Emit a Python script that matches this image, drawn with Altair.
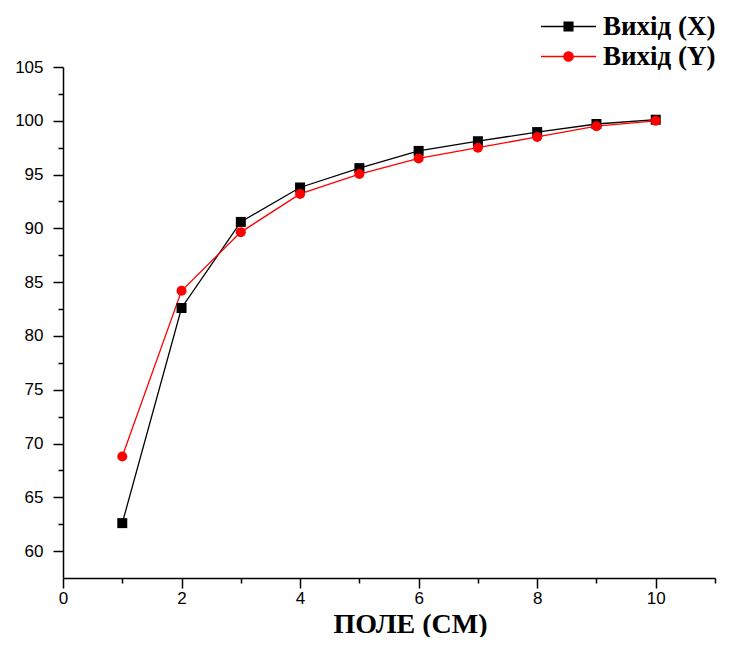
import altair as alt
import pandas as pd

# --- data ---
field_cm = [1, 2, 3, 4, 5, 6, 7, 8, 9, 10]
out_x = [62.6, 82.6, 90.6, 93.8, 95.6, 97.2, 98.1, 98.95, 99.7, 100.1]
out_y = [68.8, 84.2, 89.65, 93.2, 95.05, 96.5, 97.5, 98.5, 99.5, 100.0]
series_names = ["Вихід (X)", "Вихід (Y)"]
series_colors = ["#000000", "#ff0000"]
series_shapes = ["square", "circle"]
x_tick_values = [0, 1, 2, 3, 4, 5, 6, 7, 8, 9, 10, 11]
y_tick_values = [60, 62.5, 65, 67.5, 70, 72.5, 75, 77.5, 80, 82.5, 85, 87.5,
                 90, 92.5, 95, 97.5, 100, 102.5, 105]

rows = []
for name, vals in zip(series_names, [out_x, out_y]):
    for f, v in zip(field_cm, vals):
        rows.append({"field": f, "value": v, "series": name})
df = pd.DataFrame(rows)

x_enc = alt.X(
    "field:Q",
    scale=alt.Scale(domain=[0, 11], nice=False, zero=False),
    axis=alt.Axis(
        values=x_tick_values,
        labelExpr="datum.value % 2 == 0 ? datum.label : ''",
        tickSize={"condition": {"test": "datum.value % 2 == 0", "value": 10}, "value": 5},
        labelPadding=2,
        labelFlush=False,
        title="ПОЛЕ (СМ)",
        titleFont="Liberation Serif",
        titleFontSize=28,
        titleFontWeight="bold",
        titleColor="#000000",
        titleX=347,
        titleY=54,
        titleAlign="center",
        titleBaseline="alphabetic",
        titleAnchor="start",
    ),
)
y_enc = alt.Y(
    "value:Q",
    scale=alt.Scale(domain=[57.5, 105], nice=False, zero=False),
    axis=alt.Axis(
        values=y_tick_values,
        labelExpr="datum.value % 5 == 0 ? datum.label : ''",
        tickSize={"condition": {"test": "datum.value % 5 == 0", "value": 10}, "value": 5},
        labelPadding=10,
        labelFlush=False,
        title=None,
    ),
)
color_scale = alt.Scale(domain=series_names, range=series_colors)

shape_expr = (
    "datum.value == 'Вихід (X)' ? "
    "'M-5,0H5M-0.8,-0.8H0.8V0.8H-0.8Z' : "
    "'M-5,0H5M0.85,0A0.85,0.85,0,1,1,-0.85,0A0.85,0.85,0,1,1,0.85,0'"
)

lines = alt.Chart(df).mark_line(strokeWidth=1.3).encode(
    x=x_enc,
    y=y_enc,
    color=alt.Color(
        "series:N",
        scale=color_scale,
        legend=alt.Legend(
            title=None,
            orient="none",
            legendX=492,
            legendY=-54,
            symbolSize=121,
            symbolType=alt.ExprRef(shape_expr),
            symbolFillColor=alt.ExprRef("scale('color', datum.value)"),
            symbolStrokeColor=alt.ExprRef("scale('color', datum.value)"),
            symbolStrokeWidth=1.3,
            symbolOpacity=1,
            labelOffset=21,
            labelFont="Liberation Serif",
            labelFontSize=27,
            labelFontWeight="bold",
            labelColor="#000000",
            rowPadding=2,
            padding=0,
        ),
    ),
    detail="series:N",
)

point_layers = []
for name, col, shp in zip(series_names, series_colors, series_shapes):
    point_layers.append(
        alt.Chart(df)
        .transform_filter(alt.datum.series == name)
        .mark_point(filled=True, size=100, opacity=1, shape=shp, color=col)
        .encode(x=x_enc, y=y_enc)
    )

chart = (
    alt.layer(lines, *point_layers)
    .properties(
        width=652,
        height=511,
        autosize=alt.AutoSizeParams(type="none"),
        padding={"left": 55, "top": 59, "right": 6, "bottom": 59},
        background="#ffffff",
    )
    .configure_view(stroke=None)
    .configure_axis(
        grid=False,
        domainColor="#000000",
        domainWidth=1.5,
        tickColor="#000000",
        tickWidth=1.5,
        labelFont="Liberation Sans",
        labelFontSize=17,
        labelColor="#000000",
    )
)

chart.save("out.html", embed_options={"renderer": "svg", "actions": False})
